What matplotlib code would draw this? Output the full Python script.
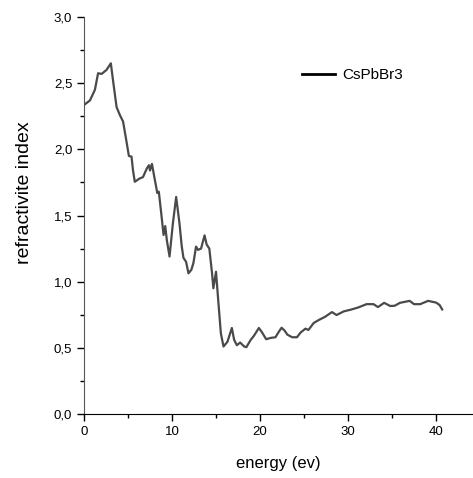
# -*- coding: utf-8 -*-
import matplotlib
matplotlib.use('Agg')
import matplotlib.pyplot as plt
from matplotlib.ticker import MultipleLocator, FuncFormatter
from matplotlib.lines import Line2D

plt.rcParams['font.family'] = ['Liberation Sans', 'DejaVu Sans']

# energy (eV) and refractive index
energy = [0, 0.68, 1.24, 1.6, 2.0, 2.56, 3.05, 3.3, 3.7, 4.07, 4.44, 4.8, 5.1, 5.4,
          5.57, 5.77, 6.33, 6.7, 7.15, 7.38, 7.5, 7.72, 8.02, 8.33, 8.5, 8.77, 9.04,
          9.23, 9.41, 9.72, 10.1, 10.47, 10.85, 11.1, 11.3, 11.6, 11.87, 12.2, 12.43,
          12.73, 12.96, 13.3, 13.7, 13.94, 14.24, 14.55, 14.7, 15.0, 15.25, 15.55,
          15.85, 16.3, 16.8, 17.06, 17.37, 17.74, 18.2, 18.45, 18.94, 19.3, 19.87,
          20.2, 20.7, 21.2, 21.76, 22.07, 22.45, 22.8, 23.1, 23.65, 24.2, 24.6, 25.16,
          25.5, 26.1, 26.67, 27.4, 28.17, 28.7, 29.5, 30.4, 31.2, 32.1, 32.9, 33.4,
          34.1, 34.8, 35.3, 35.9, 37.0, 37.5, 38.2, 39.1, 40.0, 40.4, 40.7]
n_index = [2.335, 2.37, 2.45, 2.575, 2.57, 2.6, 2.65, 2.52, 2.32, 2.26, 2.21, 2.07,
           1.95, 1.945, 1.84, 1.755, 1.78, 1.79, 1.857, 1.88, 1.84, 1.89, 1.78, 1.67,
           1.68, 1.52, 1.353, 1.42, 1.315, 1.19, 1.44, 1.64, 1.44, 1.27, 1.18, 1.15,
           1.063, 1.09, 1.14, 1.265, 1.24, 1.25, 1.35, 1.28, 1.25, 1.063, 0.95, 1.075,
           0.86, 0.61, 0.51, 0.546, 0.65, 0.56, 0.52, 0.54, 0.51, 0.505, 0.56, 0.59,
           0.65, 0.62, 0.565, 0.575, 0.58, 0.615, 0.652, 0.63, 0.6, 0.58, 0.58, 0.615,
           0.645, 0.635, 0.688, 0.71, 0.735, 0.77, 0.748, 0.775, 0.79, 0.806, 0.83,
           0.83, 0.808, 0.84, 0.816, 0.818, 0.84, 0.855, 0.83, 0.83, 0.855, 0.842,
           0.824, 0.79]

fig = plt.figure(figsize=(4.73, 4.78), dpi=100)
ax = fig.add_axes([84 / 473, 1 - 414 / 478, 1 - 84 / 473, (414 - 17) / 478])

ax.plot(energy, n_index, color='#4a4a4a', lw=1.6)

ax.set_xlim(0, 44.2)
ax.set_ylim(0, 3.0)
ax.xaxis.set_major_locator(MultipleLocator(10))
ax.xaxis.set_minor_locator(MultipleLocator(5))
ax.yaxis.set_major_locator(MultipleLocator(0.5))
ax.yaxis.set_minor_locator(MultipleLocator(0.25))
ax.yaxis.set_major_formatter(FuncFormatter(lambda v, p: ('%.1f' % v).replace('.', ',')))

for s in ['top', 'right']:
    ax.spines[s].set_visible(False)
ax.spines['left'].set_color('#555555')
ax.spines['bottom'].set_color('black')
ax.tick_params(which='major', direction='out', length=5, width=1, labelsize=9.5)
ax.tick_params(which='minor', direction='out', length=3, width=1)

ax.set_xlabel('energy (ev)', fontsize=12)
ax.xaxis.set_label_coords(0.5, -0.105)
ax.set_ylabel('refractivite index', fontsize=14)
ax.yaxis.set_label_coords(-0.131, 0.557)

h = Line2D([], [], color='black', lw=2)
ax.legend([h], ['CsPbBr3'], loc='center left', bbox_to_anchor=(0.56, 0.854),
          frameon=False, fontsize=11, handlelength=2.2, handletextpad=0.45,
          borderpad=0, borderaxespad=0)

fig.savefig('out.png', dpi=100)
